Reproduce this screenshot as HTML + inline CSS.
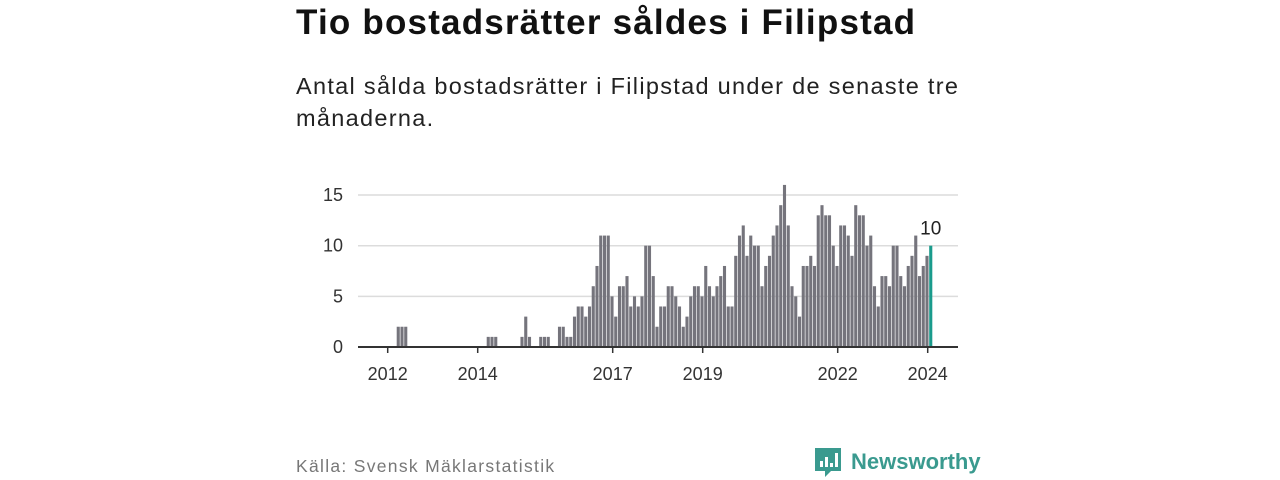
<!DOCTYPE html>
<html><head><meta charset="utf-8">
<style>
body{margin:0;width:1280px;height:480px;background:#fff;font-family:"Liberation Sans",sans-serif;overflow:hidden;position:relative}
.t{position:absolute;left:296px;top:3px;font-size:35px;font-weight:bold;color:#111;letter-spacing:1.2px;white-space:nowrap}
.s{position:absolute;left:296px;top:70px;font-size:23.5px;line-height:32px;color:#222;width:720px;letter-spacing:1.3px}
.f{position:absolute;left:296px;top:456px;font-size:17.5px;color:#777;letter-spacing:1.3px}
</style></head><body>
<div class="t">Tio bostadsrätter såldes i Filipstad</div>
<div class="s">Antal sålda bostadsrätter i Filipstad under de senaste tre månaderna.</div>
<svg id="chart" width="1280" height="480" style="position:absolute;left:0;top:0"></svg>
<div class="f">Källa: Svensk Mäklarstatistik</div>
<svg style="position:absolute;left:812px;top:444px" width="180" height="36">
<path d="M3 4h26v23h-10l-6 6v-6H3z" fill="#3a9a8f"/>
<rect x="8" y="17" width="3" height="6" fill="#fff"/><rect x="13" y="13" width="3" height="10" fill="#fff"/><rect x="18" y="19" width="3" height="4" fill="#fff"/><rect x="23" y="9" width="3" height="14" fill="#fff"/>
<text x="39" y="25" font-family="Liberation Sans, sans-serif" font-size="22" font-weight="bold" fill="#3a9a8f">Newsworthy</text>
</svg>
<script>
const startYear = 2012;
const values = [
0,0,2,2,2,0,0,0,0,0,0,0,
0,0,0,0,0,0,0,0,0,0,0,0,
0,0,1,1,1,0,0,0,0,0,0,1,
3,1,0,0,1,1,1,0,0,2,2,1,
1,3,4,4,3,4,6,8,11,11,11,5,
3,6,6,7,4,5,4,5,10,10,7,2,
4,4,6,6,5,4,2,3,5,6,6,5,
8,6,5,6,7,8,4,4,9,11,12,9,
11,10,10,6,8,9,11,12,14,16,12,6,
5,3,8,8,9,8,13,14,13,13,10,8,
12,12,11,9,14,13,13,10,11,6,4,7,
7,6,10,10,7,6,8,9,11,7,8,9,
10];
const yTicks = [0,5,10,15];
const xTickYears = [2012,2014,2017,2019,2022,2024];
const NS="http://www.w3.org/2000/svg";
const svg=document.getElementById('chart');
const x=t=>387.7+(t-2012)*45;
const y=v=>347-v*10.13;
function mk(tag,attrs){const e=document.createElementNS(NS,tag);for(const k in attrs)e.setAttribute(k,attrs[k]);svg.appendChild(e);return e;}
yTicks.forEach(v=>{
  if(v>0){const g=mk('line',{x1:358,x2:958,y1:y(v),y2:y(v),stroke:'#dcdcdc','stroke-width':1.5});
  
  }
  const t=mk('text',{x:343,y:y(v)+6,'text-anchor':'end','font-size':18,fill:'#333','font-family':'Liberation Sans, sans-serif'});
  t.textContent=v;
  
  
});
values.forEach((v,i)=>{
  if(v<=0)return;
  const last=i===values.length-1;
  const x0=x(startYear+i/12)+1.5;
  const r=mk('rect',{x:x0,y:y(v),width:3.1,height:347-y(v),fill:last?'#1a9b8c':'#75747c'});
  
  
  if(last){const t=mk('text',{x:x0+1.5,y:y(v)-11,'text-anchor':'middle','font-size':19,fill:'#222','font-family':'Liberation Sans, sans-serif'});
  t.textContent=v;
  
  }
});
const ax=mk('line',{x1:358,x2:958,y1:347,y2:347,stroke:'#333','stroke-width':2});


xTickYears.forEach(yr=>{
  const tk=mk('line',{x1:x(yr),x2:x(yr),y1:347,y2:353,stroke:'#333','stroke-width':1.5});
  
  
  const t=mk('text',{x:x(yr),y:380,'text-anchor':'middle','font-size':18,fill:'#333','font-family':'Liberation Sans, sans-serif'});
  t.textContent=yr;
  
  
});
</script>
</body></html>
